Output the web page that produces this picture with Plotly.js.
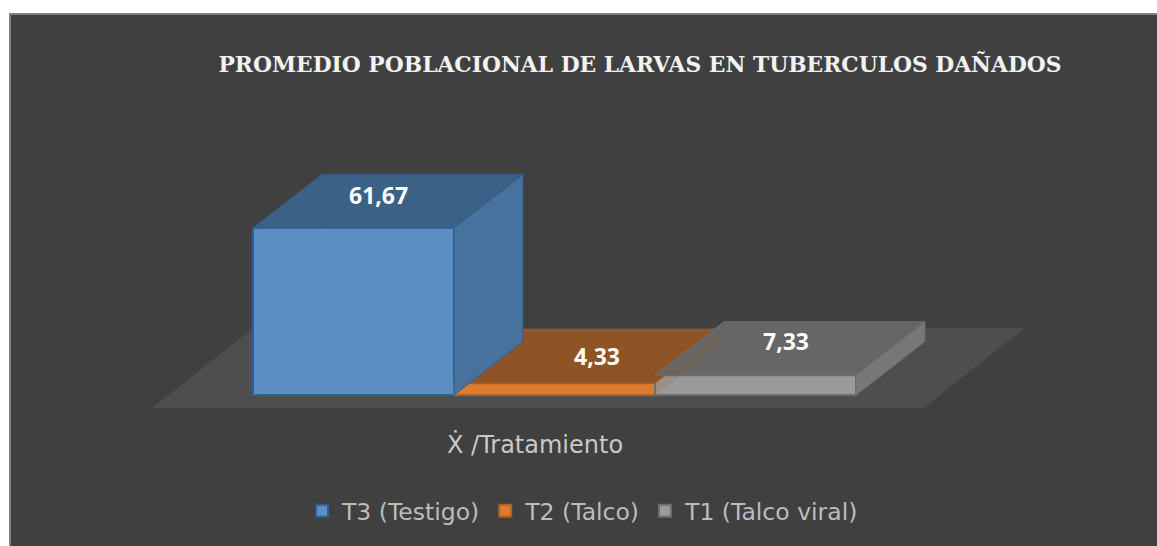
<!DOCTYPE html>
<html>
<head>
<meta charset="utf-8">
<script src="https://cdn.plot.ly/plotly-3.0.1.min.js"></script>
<style>html,body{margin:0;padding:0;background:#fff}#chart{width:1157px;height:546px}</style>
</head>
<body>
<div id="chart"></div>
<script>
const categories = ["T3 (Testigo)", "T2 (Talco)", "T1 (Talco viral)"];
const values = [61.67, 4.33, 7.33];
const labels = ["61,67", "4,33", "7,33"];
const frontColors = ["#5b8fc3", "#de7b32", "#9a9a9a"];
const sideColors = ["#46729d", "#9a5a28", "#777777"];
const topColors = ["#3b6186", "#8f5426", "#666666"];
const edgeColors = ["#2f5f8e", "#b0601f", "#6e6e6e"];
const titleText = "PROMEDIO POBLACIONAL DE LARVAS EN TUBERCULOS DAÑADOS";
const axisTitle = "Ẋ /Tratamiento";

// Oblique projection of the depth axis onto the x / value axes.
const depthX = 0.343, depthY = 19.7;
const labelShiftX = [0.125, 0.21, 0.15];
const labelShiftY = [12, 10.1, 12.7];
const sideOpacity = [1, 0.15, 1];

const traces = [];

// Front faces: real bars so that the value axis sets their height
categories.forEach((c, i) => {
  traces.push({
    type: "bar", name: c, x: [i + 0.5], y: [values[i]], width: [1],
    marker: {color: frontColors[i], line: {color: edgeColors[i], width: 2}},
    hoverinfo: "skip"
  });
});

// Back edges seen through the translucent front of the first bar
traces.push({
  type: "scatter", mode: "lines", showlegend: false, hoverinfo: "skip",
  x: [0, depthX, depthX], y: [0, depthY, values[0]],
  line: {color: "#5a93cc", width: 1}
});

// Top faces
categories.forEach((c, i) => {
  const v = values[i];
  traces.push({
    type: "scatter", mode: "lines", fill: "toself", showlegend: false, hoverinfo: "skip",
    x: [i, i + depthX, i + 1 + depthX, i + 1, i],
    y: [v, v + depthY, v + depthY, v, v],
    line: {color: edgeColors[i], width: 1}, fillcolor: topColors[i]
  });
});

// Side faces
categories.forEach((c, i) => {
  const v = values[i];
  traces.push({
    type: "scatter", mode: "lines", fill: "toself", showlegend: false, hoverinfo: "skip",
    x: [i + 1, i + 1 + depthX, i + 1 + depthX, i + 1, i + 1],
    y: [0, depthY, v + depthY, v, 0],
    line: {color: edgeColors[i], width: 1}, fillcolor: sideColors[i],
    opacity: sideOpacity[i]
  });
});

const annotations = categories.map((c, i) => ({
  x: i + 0.5 + labelShiftX[i], y: values[i] + labelShiftY[i], xref: "x", yref: "y",
  text: labels[i], showarrow: false,
  font: {family: "'Open Sans', sans-serif", size: 23, color: "#ffffff", weight: 700}
}));
annotations.push({
  x: (535 - 11) / 1146, y: 1 - (444 - 15) / 531, xref: "paper", yref: "paper",
  xanchor: "center", yanchor: "middle",
  showarrow: false, text: axisTitle,
  font: {family: "'DejaVu Sans', sans-serif", size: 24, color: "#c9c9c9"}
});

const layout = {
  width: 1157, height: 546,
  margin: {l: 11, t: 15, r: 0, b: 0, pad: 0, autoexpand: false},
  paper_bgcolor: "#ffffff", plot_bgcolor: "#404040",
  barmode: "overlay",
  title: {
    text: "<b>" + titleText + "</b>", x: 640 / 1157, xanchor: "center", xref: "container",
    y: 1 - 64 / 546, yanchor: "middle", yref: "container",
    font: {family: "'DejaVu Serif', serif", size: 21.8, color: "#f2f2f2"}
  },
  xaxis: {
    range: [-1.204, 4.4975], side: "top", showline: true, linecolor: "#7f7f7f", linewidth: 2,
    showgrid: false, zeroline: false, showticklabels: false, ticks: "", fixedrange: true
  },
  yaxis: {
    range: [-55.7, 140.2], showline: true, linecolor: "#7f7f7f", linewidth: 2,
    showgrid: false, zeroline: false, showticklabels: false, ticks: "", fixedrange: true
  },
  shapes: [{
    type: "path", layer: "below", xref: "x", yref: "y", line: {width: 0}, fillcolor: "#4f4e4e",
    path: "M-0.5,-4.8 L3.335,-4.8 L3.84,24.7 L0,24.7 Z"
  }],
  legend: {
    orientation: "h", x: (302 - 11) / 1146, xanchor: "left",
    y: 1 - (511 - 15) / 531, yanchor: "middle", bgcolor: "rgba(0,0,0,0)",
    font: {family: "'DejaVu Sans', sans-serif", size: 23.5, color: "#bdbdbd"}
  },
  annotations: annotations
};

Plotly.newPlot("chart", traces, layout, {displayModeBar: false, staticPlot: true});
</script>
</body>
</html>
